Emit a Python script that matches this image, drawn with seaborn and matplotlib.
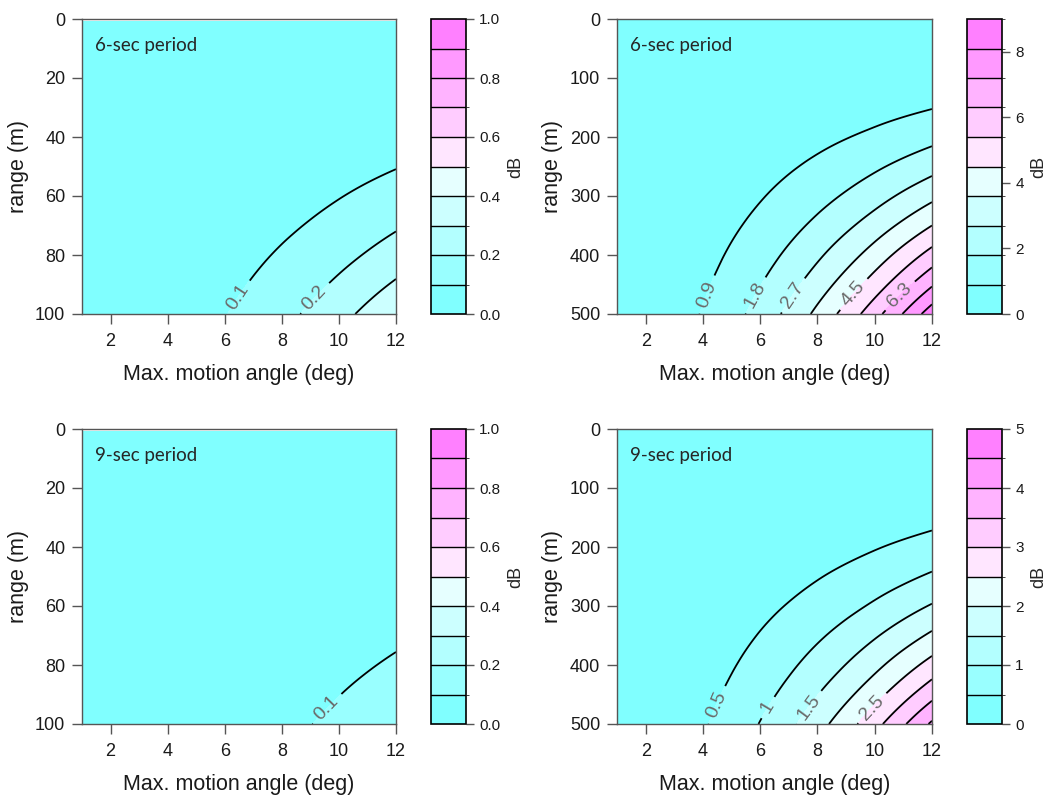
import numpy as np
import matplotlib
matplotlib.use("Agg")
import matplotlib.pyplot as plt
import matplotlib.tri as mtri
from matplotlib.colors import ListedColormap, BoundaryNorm
import seaborn as sns

# grid: columns = max motion angle (deg), rows = range (m)
angles = [1, 2, 4, 6, 8, 10, 12]
ranges_short = [1, 10, 20, 30, 40, 50, 60, 70, 80, 90, 100]
ranges_long = [1, 50, 100, 150, 200, 250, 300, 350, 400, 450, 500]

# dB loss, 6-sec period, 0-100 m
loss_6s_short = [
    [0.0, 0.0, 0.0, 0.0, 0.0, 0.0, 0.0],
    [0.0, 0.0001, 0.0004, 0.001, 0.0017, 0.0027, 0.0039],
    [0.0001, 0.0004, 0.0017, 0.0039, 0.0068, 0.0107, 0.0154],
    [0.0002, 0.001, 0.0039, 0.0087, 0.0154, 0.0241, 0.0347],
    [0.0004, 0.0017, 0.0069, 0.0155, 0.0275, 0.0429, 0.0618],
    [0.0007, 0.0027, 0.0107, 0.0241, 0.0429, 0.067, 0.0965],
    [0.001, 0.0039, 0.0154, 0.0348, 0.0618, 0.0965, 0.139],
    [0.0013, 0.0053, 0.021, 0.0473, 0.084, 0.131, 0.189],
    [0.0017, 0.0069, 0.0274, 0.0618, 0.11, 0.171, 0.247],
    [0.0022, 0.0087, 0.0347, 0.0783, 0.139, 0.217, 0.313],
    [0.0027, 0.0107, 0.0428, 0.0965, 0.171, 0.268, 0.386],
]

# dB loss, 6-sec period, 0-500 m
loss_6s_long = [
    [0.0, 0.0, 0.0, 0.0, 0.0, 0.0, 0.0],
    [0.0007, 0.0027, 0.0107, 0.0241, 0.0429, 0.067, 0.0965],
    [0.0027, 0.0107, 0.0429, 0.0965, 0.172, 0.268, 0.386],
    [0.006, 0.0242, 0.0967, 0.218, 0.387, 0.604, 0.87],
    [0.0108, 0.0431, 0.172, 0.388, 0.689, 1.076, 1.55],
    [0.0167, 0.0667, 0.267, 0.6, 1.067, 1.667, 2.40],
    [0.0235, 0.0939, 0.376, 0.845, 1.502, 2.347, 3.38],
    [0.0313, 0.125, 0.5, 1.125, 2.0, 3.125, 4.50],
    [0.0399, 0.16, 0.639, 1.438, 2.556, 3.993, 5.75],
    [0.0493, 0.197, 0.789, 1.775, 3.156, 4.931, 7.10],
    [0.0597, 0.239, 0.956, 2.15, 3.822, 5.972, 8.60],
]

# dB loss, 9-sec period, 0-100 m
loss_9s_short = [
    [0.0, 0.0, 0.0, 0.0, 0.0, 0.0, 0.0],
    [0.0, 0.0, 0.0002, 0.0004, 0.0008, 0.0012, 0.0018],
    [0.0, 0.0002, 0.0008, 0.0018, 0.0031, 0.0049, 0.007],
    [0.0001, 0.0004, 0.0018, 0.004, 0.007, 0.011, 0.0158],
    [0.0002, 0.0008, 0.0031, 0.007, 0.0124, 0.0194, 0.028],
    [0.0003, 0.0012, 0.0049, 0.011, 0.0195, 0.0304, 0.0438],
    [0.0004, 0.0018, 0.007, 0.0158, 0.028, 0.0438, 0.063],
    [0.0006, 0.0024, 0.0095, 0.0215, 0.0381, 0.0596, 0.0858],
    [0.0008, 0.0031, 0.0124, 0.028, 0.0498, 0.0778, 0.112],
    [0.001, 0.0039, 0.0158, 0.0355, 0.0631, 0.0986, 0.142],
    [0.0012, 0.0049, 0.0194, 0.0438, 0.0778, 0.1215, 0.175],
]

# dB loss, 9-sec period, 0-500 m
loss_9s_long = [
    [0.0, 0.0, 0.0, 0.0, 0.0, 0.0, 0.0],
    [0.0003, 0.0012, 0.0047, 0.0105, 0.0187, 0.0292, 0.042],
    [0.0012, 0.0047, 0.0188, 0.0423, 0.0751, 0.1174, 0.169],
    [0.0026, 0.0106, 0.0422, 0.095, 0.169, 0.264, 0.38],
    [0.0047, 0.0189, 0.0756, 0.17, 0.302, 0.472, 0.68],
    [0.0074, 0.0297, 0.1189, 0.2675, 0.4756, 0.743, 1.07],
    [0.0107, 0.0428, 0.171, 0.385, 0.684, 1.069, 1.54],
    [0.0145, 0.058, 0.232, 0.5225, 0.929, 1.451, 2.09],
    [0.0187, 0.0747, 0.299, 0.6725, 1.196, 1.868, 2.69],
    [0.0233, 0.0931, 0.372, 0.8375, 1.489, 2.326, 3.35],
    [0.0283, 0.1133, 0.4533, 1.02, 1.813, 2.833, 4.08],
]

# R cm.colors(10)
cm_colors = ["#80FFFF", "#99FFFF", "#B3FFFF", "#CCFFFF", "#E6FFFF",
             "#FFE6FF", "#FFCCFF", "#FFB3FF", "#FF99FF", "#FF80FF"]

sns.set_style("ticks")
plt.rcParams["font.family"] = ["Liberation Sans", "DejaVu Sans"]
cmap = ListedColormap(cm_colors)

W, H = 1052, 796
fig = plt.figure(figsize=(W / 100, H / 100), dpi=100)


def px_rect(x0, y0, x1, y1):
    return [x0 / W, 1 - y1 / H, (x1 - x0) / W, (y1 - y0) / H]


def panel(ax_box, cb_box, z, ranges, vmax, yticks, cticks, cfmt, title, labels):
    ax = fig.add_axes(px_rect(*ax_box))
    cax = fig.add_axes(px_rect(*cb_box))

    rmax = max(ranges)
    # limits first, so the label angles are worked out on the final axes
    ax.set_xlim(1, 12)
    ax.set_ylim(rmax, 0)

    X, Y = np.meshgrid(angles, np.array(ranges) / rmax * 11)
    tri = mtri.Triangulation(X.ravel(), Y.ravel())
    tri_f, z_f = mtri.UniformTriRefiner(tri).refine_field(
        np.asarray(z, float).ravel(), subdiv=4)
    tri_f = mtri.Triangulation(tri_f.x, tri_f.y * rmax / 11, tri_f.triangles)
    z_f = np.clip(z_f, 0, None)

    levels = np.linspace(0, vmax, 11)
    norm = BoundaryNorm(levels, cmap.N)
    cf = ax.tricontourf(tri_f, z_f, levels=levels, cmap=cmap, norm=norm)
    label_at = dict(labels)
    for i, lv in enumerate(levels[1:-1]):
        cs = ax.tricontour(tri_f, z_f, levels=[lv], colors="black",
                           linewidths=1.3)
        if i in label_at:
            ax.clabel(cs, manual=[label_at[i]], inline=True,
                      inline_spacing=7, fontsize=14, colors="#6a6a6a",
                      fmt=lambda v: f"{v:.6g}")

    ax.set_xticks([2, 4, 6, 8, 10, 12])
    ax.set_yticks(yticks)
    ax.tick_params(labelsize=13, length=7, width=1, color="#555555",
                   labelcolor="#1a1a1a")
    ax.tick_params(axis="x", pad=7)
    ax.tick_params(axis="y", pad=5)
    for s in ax.spines.values():
        s.set_color("#555555")
        s.set_linewidth(1)
    ax.set_xlabel("Max. motion angle (deg)", fontsize=15.5, labelpad=10,
                  color="#1a1a1a")
    ax.set_ylabel("range (m)", fontsize=15.5, color="#1a1a1a")
    ax.yaxis.set_label_coords(-0.17, 0.5)
    ax.text(0.04, 0.91, title, transform=ax.transAxes, fontsize=13.5,
            family=["Lato", "DejaVu Sans"], va="center", ha="left")

    cb = fig.colorbar(cf, cax=cax, ticks=cticks)
    cb.ax.set_yticklabels([cfmt.format(t) for t in cticks])
    cb.outline.set_edgecolor("black")
    cb.outline.set_linewidth(1.2)
    for lv in levels[1:-1]:
        cax.axhline(lv, color="black", lw=1)
    cax.tick_params(labelsize=11, length=6, width=1, color="#555555",
                    labelcolor="#1a1a1a")
    cb.set_label("dB", fontsize=13, labelpad=5)
    return ax


panel((82, 19, 396, 314), (431, 19, 466, 314), loss_6s_short, ranges_short,
      1.0, [0, 20, 40, 60, 80, 100], [0, 0.2, 0.4, 0.6, 0.8, 1.0], "{:.1f}",
      "6-sec period", [(0, (6.4, 94)), (1, (9.1, 94))])
panel((617, 19, 932, 314), (967, 19, 1002, 314), loss_6s_long, ranges_long,
      9.0, [0, 100, 200, 300, 400, 500], [0, 2, 4, 6, 8], "{:d}",
      "6-sec period",
      [(0, (4.3, 470)), (1, (5.9, 470)), (2, (7.2, 470)), (4, (9.3, 468)),
       (6, (10.8, 465))])
panel((82, 429, 396, 724), (431, 429, 466, 724), loss_9s_short, ranges_short,
      1.0, [0, 20, 40, 60, 80, 100], [0, 0.2, 0.4, 0.6, 0.8, 1.0], "{:.1f}",
      "9-sec period", [(0, (9.5, 94))])
panel((617, 429, 932, 724), (967, 429, 1002, 724), loss_9s_long, ranges_long,
      5.0, [0, 100, 200, 300, 400, 500], [0, 1, 2, 3, 4, 5], "{:d}",
      "9-sec period",
      [(0, (4.6, 470)), (1, (6.2, 470)), (2, (7.6, 468)), (4, (9.8, 468))])

fig.savefig("out.png", dpi=100)
